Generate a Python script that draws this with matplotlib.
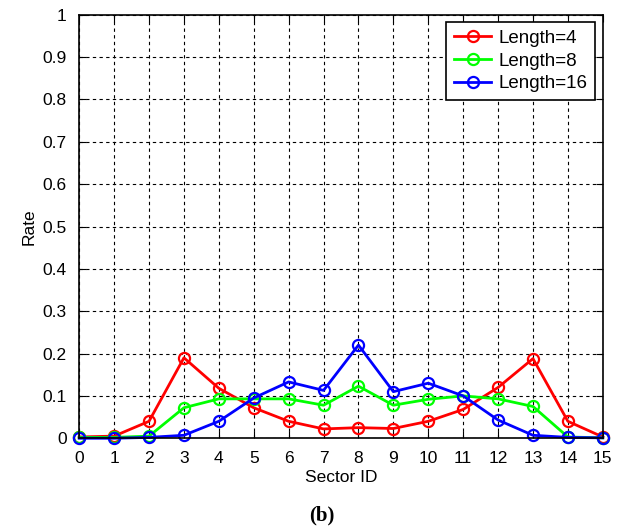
import numpy as np
import matplotlib
matplotlib.use('Agg')
import matplotlib.pyplot as plt

plt.rcParams['font.family'] = ['Liberation Sans', 'DejaVu Sans']

sector_id = np.arange(16)
rate_len4 = [0.003, 0.005, 0.04, 0.19, 0.118, 0.072, 0.04, 0.022, 0.025, 0.023, 0.04, 0.068, 0.12, 0.188, 0.04, 0.003]
rate_len8 = [0.002, 0.002, 0.005, 0.072, 0.093, 0.093, 0.093, 0.078, 0.123, 0.078, 0.092, 0.1, 0.093, 0.075, 0.003, 0.001]
rate_len16 = [0.0, 0.0, 0.002, 0.007, 0.04, 0.095, 0.133, 0.113, 0.22, 0.11, 0.13, 0.1, 0.043, 0.007, 0.002, 0.001]
labels = ['Length=4', 'Length=8', 'Length=16']
colors = ['#ff0000', '#00ff00', '#0000ff']

fig = plt.figure(figsize=(6.44, 5.28), dpi=100)
ax = fig.add_axes([0.123, 0.17, 0.813, 0.802])

for y, lab, c in zip([rate_len4, rate_len8, rate_len16], labels, colors):
    ax.plot(sector_id, y, '-o', color=c, lw=2, ms=8, mfc='none', mew=1.6, label=lab, clip_on=False)

ax.set_xlim(0, 15)
ax.set_ylim(0, 1)
ax.set_xticks(sector_id)
ax.set_yticks(np.arange(0, 1.01, 0.1))
ax.set_yticklabels(['0', '0.1', '0.2', '0.3', '0.4', '0.5', '0.6', '0.7', '0.8', '0.9', '1'])
ax.tick_params(direction='in', top=True, right=True, labelsize=12.5, length=5)
ax.tick_params(axis='x', pad=9)
ax.tick_params(axis='y', pad=9)
ax.grid(True, color='black', linestyle=(0, (3, 3)), lw=0.8)
for s in ax.spines.values():
    s.set_linewidth(1.2)
ax.set_xlabel('Sector ID', fontsize=12.5, labelpad=3)
ax.set_ylabel('Rate', fontsize=12.5, labelpad=4)

leg = ax.legend(loc='upper right', fontsize=13.5, fancybox=False, edgecolor='black',
                framealpha=1, handlelength=2.0, handletextpad=0.4, borderaxespad=0.4,
                labelspacing=0.3)
leg.get_frame().set_linewidth(1.2)

fig.text(0.5, 0.015, '(b)', ha='center', fontsize=15, fontweight='bold', family='Liberation Serif')

fig.savefig('out.png', dpi=100)
